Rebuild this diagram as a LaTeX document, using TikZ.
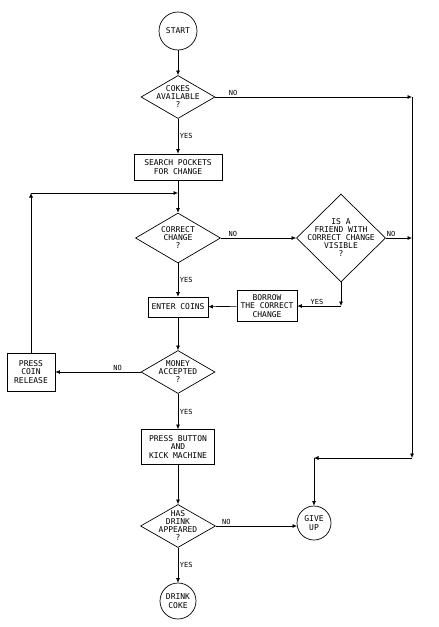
\documentclass[tikz,border=0pt]{standalone}
\usepackage{fontspec}
\newfontfamily\chartfont{DejaVu Sans Mono}
\usetikzlibrary{shapes.geometric,arrows.meta}

\tikzset{
  every node/.style={font=\chartfont\fontsize{8}{8.5}\selectfont},
  block/.style={draw,rectangle,line width=0.7pt,align=center,inner sep=0pt},
  decision/.style={draw,diamond,line width=0.7pt,inner sep=0pt},
  term/.style={draw,circle,line width=0.7pt,align=center,inner sep=0pt},
  qtext/.style={align=center,font=\chartfont\fontsize{8}{8}\selectfont},
  lbl/.style={inner sep=1.5pt,font=\chartfont\fontsize{7}{8}\selectfont}
}

\begin{document}
\begin{tikzpicture}[x=1pt,y=-1pt,>={Latex[length=4.5pt,width=4pt]},line width=0.65pt]
            \useasboundingbox (0,0) rectangle (439,627);
            \node[term,minimum size=38pt] (start) at (178,31) {START};
            \node[decision,minimum width=74pt,minimum height=43pt,label={[qtext]center:{COKES\\AVAILABLE\\?}}] (cokes) at (178,97) {};
            \node[block,minimum width=88pt,minimum height=26pt] (search) at (178,167) {SEARCH POCKETS\\FOR CHANGE};
            \node[decision,minimum width=85pt,minimum height=50pt,label={[qtext]center:{CORRECT\\CHANGE\\?}}] (correct) at (178,238) {};
            \node[decision,minimum width=89pt,minimum height=88pt,label={[qtext]center:{IS A\\FRIEND WITH\\CORRECT CHANGE\\VISIBLE\\?}}] (friend) at (341,238) {};
            \node[block,minimum width=60pt,minimum height=31pt] (borrow) at (267,306) {BORROW\\THE CORRECT\\CHANGE};
            \node[block,minimum width=60pt,minimum height=20pt] (enter) at (178,307) {ENTER COINS};
            \node[decision,minimum width=74pt,minimum height=43pt,label={[qtext]center:{MONEY\\ACCEPTED\\?}}] (money) at (178,372) {};
            \node[block,minimum width=48pt,minimum height=38pt] (release) at (31,372) {PRESS\\COIN\\RELEASE};
            \node[block,minimum width=73pt,minimum height=35pt] (button) at (178,447) {PRESS BUTTON\\AND\\KICK MACHINE};
            \node[decision,minimum width=75pt,minimum height=43pt,label={[qtext]center:{HAS\\DRINK\\APPEARED\\?}}] (drink) at (178,526) {};
            \node[term,minimum size=34pt] (giveup) at (314,523) {GIVE\\UP};
            \node[term,minimum size=36pt] (coke) at (178,601) {DRINK\\COKE};
            \coordinate (r1) at (412,97);
            \coordinate (r2) at (412,238);
            \coordinate (r3) at (412,458);
            \coordinate (r4) at (314,458);
            \coordinate (l1) at (31,193);
            \coordinate (l2) at (178,193);
            \coordinate (f1) at (341,306);
            \coordinate (g1) at (297,526);
            \draw[->] (start) -- (cokes);
            \draw[->] (cokes) -- node[lbl,right] {YES} (search);
            \draw[->] (cokes.east) -- node[lbl,above,pos=0.09] {NO} (r1);
            \draw[->] (r1) -- (r3);
            \draw[->] (r3) -- (r4);
            \draw[->] (r4) -- (giveup);
            \draw[->] (search) -- (correct);
            \draw[->] (correct.east) -- node[lbl,above,pos=0.16] {NO} (friend.west);
            \draw[->] (friend.east) -- node[lbl,above,pos=0.2] {NO} (r2);
            \draw[->] (friend.south) -- (f1);
            \draw[->] (f1) -- node[lbl,above,pos=0.55] {YES} (borrow.east);
            \draw[->] (borrow) -- (enter);
            \draw[->] (correct) -- node[lbl,right] {YES} (enter);
            \draw[->] (enter) -- (money);
            \draw[->] (money.west) -- node[lbl,above,pos=0.27] {NO} (release.east);
            \draw[->] (release) -- (l1);
            \draw[->] (l1) -- (l2);
            \draw[->] (money) -- node[lbl,right] {YES} (button);
            \draw[->] (button) -- (drink);
            \draw[->] (drink.east) -- node[lbl,above,pos=0.13] {NO} (g1);
            \draw[->] (drink) -- node[lbl,right] {YES} (coke);
        \end{tikzpicture}
\end{document}
